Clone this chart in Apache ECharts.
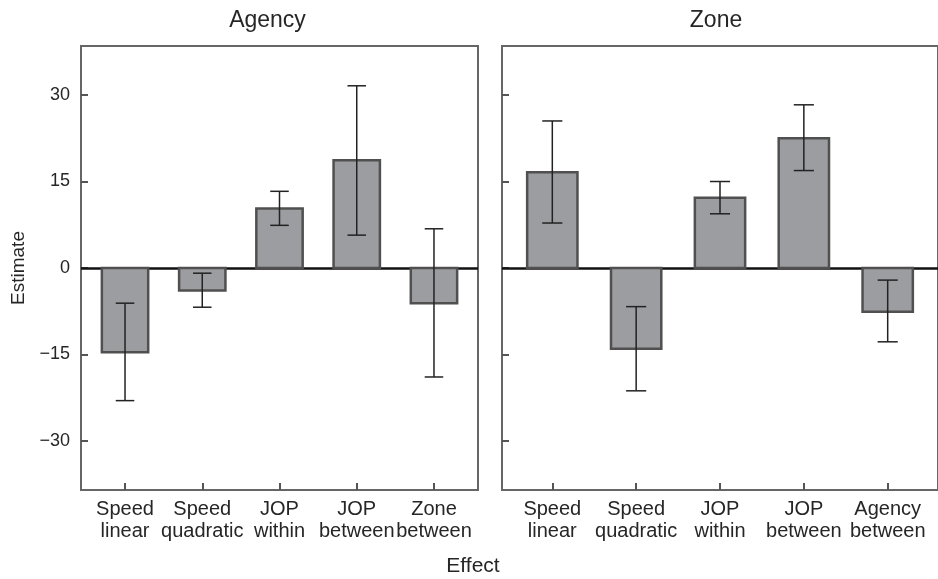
<!DOCTYPE html>
<html><head><meta charset="utf-8">
<script src="https://cdn.jsdelivr.net/npm/echarts@6/dist/echarts.min.js"></script>
<style>html,body{margin:0;padding:0;background:#fff}#c{width:938px;height:579px}</style>
</head><body><div id="c"></div>
<script>
// ---- data ----
const agencyCategories = ['Speed\nlinear', 'Speed\nquadratic', 'JOP\nwithin', 'JOP\nbetween', 'Zone\nbetween'];
const agencyEstimate = [-14.6, -3.9, 10.3, 18.7, -6.1];
const agencyLower = [-23.0, -6.8, 7.4, 5.7, -18.9];
const agencyUpper = [-6.1, -0.9, 13.3, 31.6, 6.8];

const zoneCategories = ['Speed\nlinear', 'Speed\nquadratic', 'JOP\nwithin', 'JOP\nbetween', 'Agency\nbetween'];
const zoneEstimate = [16.6, -14.0, 12.2, 22.5, -7.6];
const zoneLower = [7.8, -21.3, 9.4, 16.9, -12.8];
const zoneUpper = [25.5, -6.7, 15.0, 28.3, -2.1];

const yTickValues = [-30, -15, 0, 15, 30];
const panelTitles = ['Agency', 'Zone'];
const xAxisTitle = 'Effect';
const yAxisTitle = 'Estimate';

// ---- chart ----
const FONT = '"Liberation Sans", Arial, sans-serif';
const TXT = '#262626';
const chart = echarts.init(document.getElementById('c'), null, {renderer: 'canvas'});

function positions(cats) { return cats.map((c, i) => i + 1); }

function xAxisFor(cats, gi, min, max) {
  const pos = positions(cats);
  return {
    type: 'value', gridIndex: gi, min: min, max: max, position: 'bottom',
    axisLine: {show: true, onZero: false, lineStyle: {color: '#666', width: 2}},
    splitLine: {show: false},
    axisTick: {show: true, inside: true, length: 7, customValues: pos, lineStyle: {color: '#555', width: 2}},
    axisLabel: {
      show: true, customValues: pos, margin: 8,
      formatter: v => cats[Math.round(v) - 1] || '',
      color: TXT, fontFamily: FONT, fontSize: 20, lineHeight: 22
    }
  };
}
function yAxisFor(gi, showLabels) {
  return {
    type: 'value', gridIndex: gi, min: -38.5, max: 38.5, position: 'left',
    axisLine: {show: true, onZero: false, lineStyle: {color: '#666', width: 2}},
    splitLine: {show: false},
    axisTick: {show: true, inside: true, length: 7, customValues: yTickValues, lineStyle: {color: '#555', width: 2}},
    axisLabel: {
      show: showLabels, customValues: yTickValues, margin: 11,
      formatter: v => String(v).replace('-', '\u2212'),
      color: TXT, fontFamily: FONT, fontSize: 18
    }
  };
}

function barSeries(est, gi) {
  return {
    type: 'custom', xAxisIndex: gi, yAxisIndex: gi, z: 3,
    data: est.map((v, i) => [i + 1, v]),
    encode: {x: 0, y: 1},
    renderItem: function (params, api) {
      const x = api.value(0), v = api.value(1);
      const p0 = api.coord([x, 0]);
      const p1 = api.coord([x, v]);
      const w = api.size([0.6, 0])[0];
      return {
        type: 'rect',
        shape: {x: p0[0] - w / 2, y: Math.min(p0[1], p1[1]), width: w, height: Math.abs(p1[1] - p0[1])},
        style: {fill: '#9c9da1', stroke: '#505050', lineWidth: 2.5}
      };
    },
    markLine: {
      silent: true, symbol: 'none', z: 2,
      label: {show: false},
      lineStyle: {color: '#111', width: 2.5, type: 'solid'},
      data: [{yAxis: 0}]
    }
  };
}
function errSeries(lo, hi, gi) {
  return {
    type: 'custom', xAxisIndex: gi, yAxisIndex: gi, z: 5,
    data: lo.map((v, i) => [i + 1, v, hi[i]]),
    encode: {x: 0, y: [1, 2]},
    renderItem: function (params, api) {
      const x = api.value(0);
      const a = api.coord([x, api.value(1)]);
      const b = api.coord([x, api.value(2)]);
      const cw = api.size([0.24, 0])[0] / 2;
      const st = {stroke: '#222', lineWidth: 1.5};
      return {
        type: 'group',
        children: [
          {type: 'line', shape: {x1: a[0], y1: a[1], x2: b[0], y2: b[1]}, style: st},
          {type: 'line', shape: {x1: a[0] - cw, y1: a[1], x2: a[0] + cw, y2: a[1]}, style: st},
          {type: 'line', shape: {x1: b[0] - cw, y1: b[1], x2: b[0] + cw, y2: b[1]}, style: st}
        ]
      };
    }
  };
}

const gridStyle = {show: true, borderColor: '#666', borderWidth: 2, backgroundColor: 'transparent'};

chart.setOption({
  animation: false,
  backgroundColor: '#fff',
  grid: [
    Object.assign({left: 81, top: 46, width: 397, height: 444}, gridStyle),
    Object.assign({left: 502, top: 46, width: 447, height: 444}, gridStyle)
  ],
  xAxis: [xAxisFor(agencyCategories, 0, 0.43, 5.57), xAxisFor(zoneCategories, 1, 0.4, 5.6)],
  yAxis: [yAxisFor(0, true), yAxisFor(1, false)],
  series: [
    barSeries(agencyEstimate, 0), errSeries(agencyLower, agencyUpper, 0),
    barSeries(zoneEstimate, 1), errSeries(zoneLower, zoneUpper, 1)
  ],
  graphic: [
    {type: 'text', x: 267.5, y: 21, style: {text: panelTitles[0], fill: TXT, font: '23px ' + FONT, textAlign: 'center', textVerticalAlign: 'middle'}},
    {type: 'text', x: 716, y: 21, style: {text: panelTitles[1], fill: TXT, font: '23px ' + FONT, textAlign: 'center', textVerticalAlign: 'middle'}},
    {type: 'text', x: 473, y: 566, style: {text: xAxisTitle, fill: TXT, font: '21px ' + FONT, textAlign: 'center', textVerticalAlign: 'middle'}},
    {type: 'text', x: 19, y: 268, rotation: Math.PI / 2, style: {text: yAxisTitle, fill: TXT, font: '19px ' + FONT, textAlign: 'center', textVerticalAlign: 'middle'}}
  ]
});
</script>
</body></html>
